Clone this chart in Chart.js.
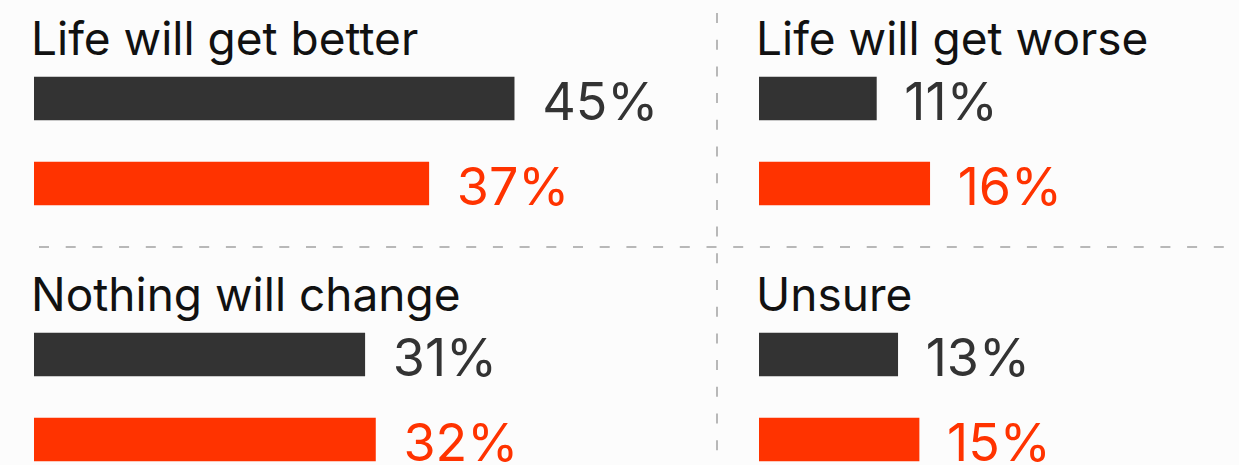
<!DOCTYPE html>
<html>
<head>
<meta charset="utf-8">
<script src="https://cdn.jsdelivr.net/npm/chart.js@4"></script>
<style>
  html, body { margin: 0; padding: 0; }
  body { width: 1239px; height: 465px; background: #fcfcfc; position: relative; overflow: hidden; font-family: Inter, "Noto Sans", sans-serif; }
  .title { position: absolute; font-size: 46px; color: #111; line-height: 1; white-space: nowrap; }
  .panel { position: absolute; }
  svg.grid { position: absolute; left: 0; top: 0; }
</style>
</head>
<body>
<svg class="grid" width="1239" height="465">
  <line x1="39" y1="247" x2="1225" y2="247" stroke="#b8b8b8" stroke-width="2" stroke-dasharray="10 16.7"/>
  <line x1="717" y1="13" x2="717" y2="465" stroke="#b8b8b8" stroke-width="2" stroke-dasharray="10 16.7"/>
</svg>

<script>
const categories = ['Life will get better', 'Life will get worse', 'Nothing will change', 'Unsure'];
const darkValues = [45, 11, 31, 13];
const orangeValues = [37, 16, 32, 15];

const darkColor = '#333333';
const orangeColor = '#ff3300';
const pxPerPct = 10.67;

// panel positions: left column / right column, top row / bottom row
const panels = [
    { x: 34, y: 0, w: 680 },
    { x: 759, y: 0, w: 480 },
    { x: 34, y: 256, w: 680 },
    { x: 759, y: 256, w: 480 }
];

const valueLabels = {
    id: 'valueLabels',
    afterDatasetsDraw(chart) {
        const ctx = chart.ctx;
        const meta = chart.getDatasetMeta(0);
        ctx.save();
        ctx.font = '52px Inter, "Noto Sans", sans-serif';
        ctx.textAlign = 'left';
        ctx.textBaseline = 'alphabetic';
        meta.data.forEach((bar, i) => {
            const v = chart.data.datasets[0].data[i];
            ctx.fillStyle = i === 0 ? darkColor : orangeColor;
            ctx.fillText(v + '%', bar.x + 28, bar.y + bar.height / 2);
        });
        ctx.restore();
    }
};

categories.forEach((cat, i) => {
    const p = panels[i];

    const title = document.createElement('div');
    title.className = 'title';
    title.textContent = cat;
    title.style.left = (p.x - 3) + 'px';
    title.style.top = (p.y + 15) + 'px';
    document.body.appendChild(title);

    const box = document.createElement('div');
    box.className = 'panel';
    box.style.left = p.x + 'px';
    box.style.top = (p.y + 56) + 'px';
    box.style.width = p.w + 'px';
    box.style.height = '170px';
    const canvas = document.createElement('canvas');
    box.appendChild(canvas);
    document.body.appendChild(box);

    new Chart(canvas, {
        type: 'bar',
        data: {
            labels: ['dark', 'orange'],
            datasets: [{
                data: [darkValues[i], orangeValues[i]],
                backgroundColor: [darkColor, orangeColor],
                barThickness: 43,
                borderWidth: 0
            }]
        },
        options: {
            indexAxis: 'y',
            responsive: true,
            maintainAspectRatio: false,
            animation: false,
            layout: { padding: 0 },
            scales: {
                x: { display: false, min: 0, max: p.w / pxPerPct },
                y: { display: false }
            },
            plugins: {
                legend: { display: false },
                tooltip: { enabled: false }
            }
        },
        plugins: [valueLabels]
    });
});
</script>
</body>
</html>
